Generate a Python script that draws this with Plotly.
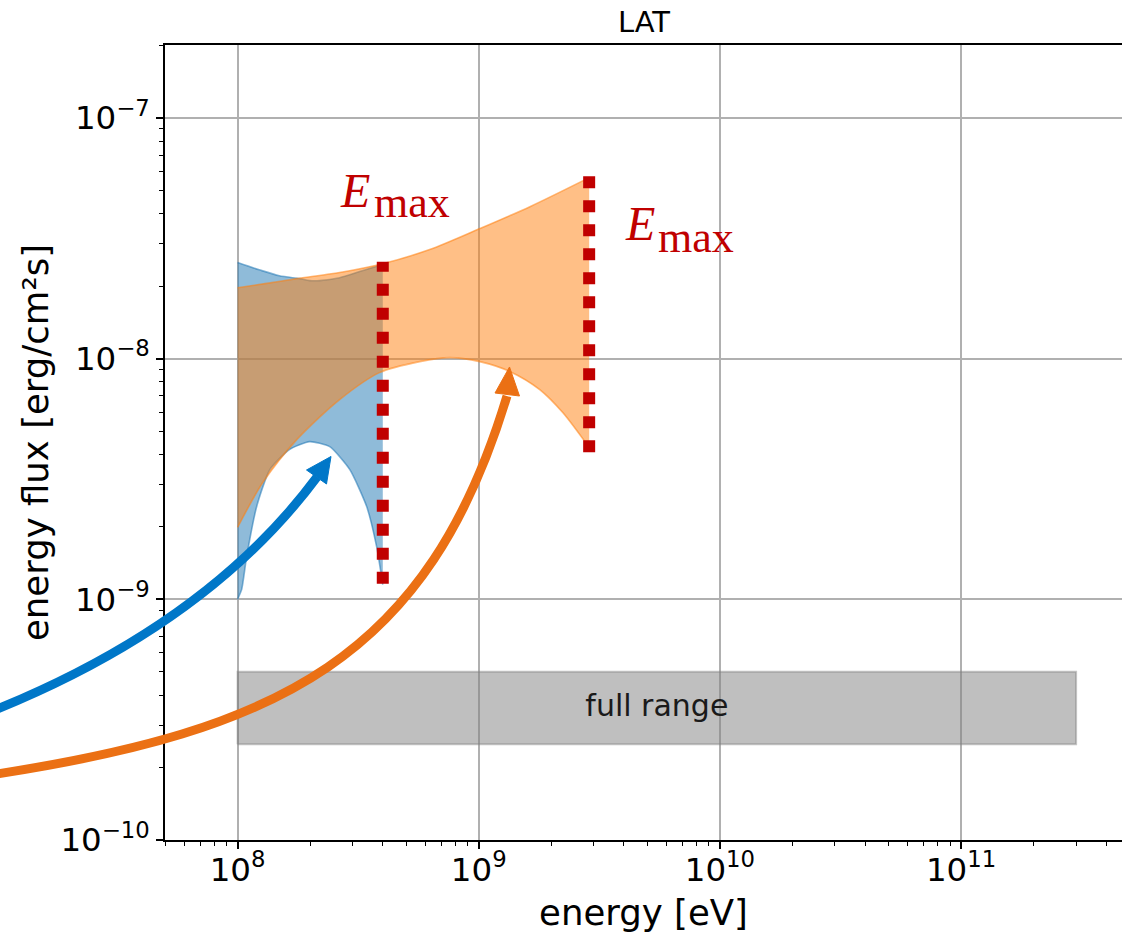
import math
import plotly.graph_objects as go

# ---------------------------------------------------------------------------
# Butterfly bands of two spectral fits: energy [eV] vs energy flux [erg/cm^2/s]
# ---------------------------------------------------------------------------
E_MAX = [4.0e8, 2.87e9]

blue_upper_e = [1.0e8, 1.23e8, 1.49e8, 1.81e8, 1.99e8, 2.19e8, 2.65e8, 3.21e8, 4.0e8]
blue_upper_f = [2.51e-8, 2.34e-8, 2.21e-8, 2.15e-8, 2.11e-8, 2.11e-8, 2.17e-8, 2.30e-8, 2.46e-8]
blue_lower_e = [1.0e8, 1.04e8, 1.09e8, 1.20e8, 1.36e8, 1.64e8, 1.99e8, 2.41e8, 2.92e8,
                3.43e8, 3.77e8, 4.0e8]
blue_lower_f = [1.00e-9, 1.10e-9, 1.50e-9, 2.43e-9, 3.46e-9, 4.19e-9, 4.52e-9, 4.31e-9,
                3.46e-9, 2.43e-9, 1.66e-9, 1.15e-9]

orange_upper_e = [1.0e8, 1.3e8, 1.76e8, 2.65e8, 4.0e8, 6.26e8, 1.01e9, 1.63e9, 2.87e9]
orange_upper_f = [1.97e-8, 2.05e-8, 2.15e-8, 2.28e-8, 2.48e-8, 2.84e-8, 3.47e-8, 4.28e-8, 5.65e-8]
orange_lower_e = [1.0e8, 1.27e8, 1.76e8, 2.65e8, 3.88e8, 5.69e8, 7.58e8, 1.01e9, 1.35e9,
                  1.79e9, 2.23e9, 2.87e9]
orange_lower_f = [1.99e-9, 3.05e-9, 4.61e-9, 6.76e-9, 8.75e-9, 9.72e-9, 1.01e-8, 9.72e-9,
                  8.83e-9, 7.44e-9, 5.97e-9, 4.27e-9]

# vertical extent of the E_max markers
emax_lo = [1.16e-9, 3.97e-9]
emax_hi = [2.53e-8, 5.72e-8]

# full energy range of the instrument
full_range_e = [1.0e8, 3.0e11]
full_range_f = [2.5e-10, 5.0e-10]

x_range = [5.0e7, 4.65e11]
y_range = [1.0e-10, 2.01e-7]

BLUE = "31,119,180"
ORANGE = "255,127,14"
RED = "#C00000"
ARROW_BLUE = "#0077C8"
ARROW_ORANGE = "#EB7014"

# figure geometry in pixels
W, H = 1122, 934
ML, MR, MT, MB = 165, 0, 45, 94
PW, PH = W - ML - MR, H - MT - MB


def paper(xp, yp):
    return (xp - ML) / PW, (H - MB - yp) / PH


def pt(xp, yp):
    x, y = paper(xp, yp)
    return f"{x:.5f},{y:.5f}"


fig = go.Figure()


def band(lo_e, lo_f, hi_e, hi_f, rgb, smooth_lo=0.8):
    edge = dict(color=f"rgba({rgb},0.55)", width=1.6, shape="spline", smoothing=0.8)
    edge_lo = dict(edge, smoothing=smooth_lo)
    fig.add_trace(go.Scatter(x=lo_e, y=lo_f, mode="lines", line=edge_lo, hoverinfo="skip"))
    fig.add_trace(go.Scatter(x=hi_e, y=hi_f, mode="lines", line=edge, fill="tonexty",
                             fillcolor=f"rgba({rgb},0.5)", hoverinfo="skip"))


band(blue_lower_e, blue_lower_f, blue_upper_e, blue_upper_f, BLUE, smooth_lo=0.55)
band(orange_lower_e, orange_lower_f, orange_upper_e, orange_upper_f, ORANGE)

# full range box
e0, e1 = full_range_e
f0, f1 = full_range_f
fig.add_trace(go.Scatter(
    x=[e0, e1, e1, e0, e0], y=[f0, f0, f1, f1, f0], mode="lines", fill="toself",
    fillcolor="rgba(128,128,128,0.5)", line=dict(color="rgba(128,128,128,0.45)", width=2),
    hoverinfo="skip"))
fig.add_trace(go.Scatter(
    x=[math.sqrt(e0 * e1)], y=[math.sqrt(f0 * f1)], mode="text", text=["full range"],
    textposition="middle center", textfont=dict(size=30, color="#1a1a1a", family="DejaVu Sans"),
    hoverinfo="skip"))

# E_max markers (left one drawn bottom-up, right one top-down)
fig.add_trace(go.Scatter(x=[E_MAX[0], E_MAX[0]], y=[emax_lo[0], emax_hi[0]], mode="lines",
                         line=dict(color=RED, width=12, dash="dot"), hoverinfo="skip"))
fig.add_trace(go.Scatter(x=[E_MAX[1], E_MAX[1]], y=[emax_hi[1], emax_lo[1]], mode="lines",
                         line=dict(color=RED, width=12, dash="dot"), hoverinfo="skip"))

# E_max labels
labels = [((340, 207), (373, 217)), ((625, 240), (657, 252))]
for (ex, eb), (mx, mb) in labels:
    x, y = paper(ex - 2, eb - 0.3375 * 48)
    fig.add_annotation(x=x, y=y, xref="paper", yref="paper", xanchor="left", yanchor="middle",
                       text="<i>E</i>", showarrow=False,
                       font=dict(family="Liberation Serif", size=48, color=RED))
    x, y = paper(mx - 1, mb - 0.3375 * 44)
    fig.add_annotation(x=x, y=y, xref="paper", yref="paper", xanchor="left", yanchor="middle",
                       text="max", showarrow=False,
                       font=dict(family="Liberation Serif", size=44, color=RED))

# curved call-out arrows
arrows = [
    (ARROW_BLUE, [(-10, 712), (120, 660), (236, 586), (317, 477)],
     [(331, 456.5), (306.5, 470), (326.5, 484)]),
    (ARROW_ORANGE, [(-10, 775), (280, 731), (428, 658), (507, 396)],
     [(509.5, 367), (495, 393), (519.5, 396)]),
]
for color, (p0, p1, p2, p3), (tip, c1, c2) in arrows:
    fig.add_shape(type="path", xref="paper", yref="paper", layer="above",
                  path=f"M{pt(*p0)} C{pt(*p1)} {pt(*p2)} {pt(*p3)}",
                  line=dict(color=color, width=9))
    fig.add_shape(type="path", xref="paper", yref="paper", layer="above",
                  path=f"M{pt(*tip)} L{pt(*c1)} L{pt(*c2)} Z",
                  fillcolor=color, line=dict(color=color, width=1))

tick_font = dict(family="DejaVu Sans", size=26, color="black")
common = dict(
    type="log", dtick=1, exponentformat="power", showexponent="all",
    ticks="outside", ticklen=7, tickwidth=1.6, tickcolor="black",
    showline=True, linecolor="black", linewidth=2,
    showgrid=True, gridcolor="#b0b0b0", gridwidth=2, zeroline=False,
    tickfont=tick_font,
    minor=dict(ticks="outside", ticklen=4, tickwidth=1.2, tickcolor="black",
               showgrid=False, dtick="D1"),
)

fig.update_layout(
    width=W, height=H,
    margin=dict(l=ML, r=MR, t=MT, b=MB, autoexpand=False),
    paper_bgcolor="white", plot_bgcolor="white",
    showlegend=False,
    font=dict(family="DejaVu Sans", color="black"),
    title=dict(text="LAT", x=(644 - ML) / PW, xref="paper", xanchor="center",
               y=1 - 22 / H, yref="container", yanchor="middle",
               font=dict(size=29, family="DejaVu Sans", color="black")),
    xaxis=dict(common, range=[math.log10(x_range[0]), math.log10(x_range[1])], mirror=True,
               ticklabelstandoff=-6,
               title=dict(text="energy [eV]", font=dict(size=35.5), standoff=12)),
    yaxis=dict(common, range=[math.log10(y_range[0]), math.log10(y_range[1])],
               ticklabelstandoff=1,
               title=dict(text="energy flux [erg/cm²s]", font=dict(size=35.5), standoff=1)),
)

fig.write_html("out.html")
